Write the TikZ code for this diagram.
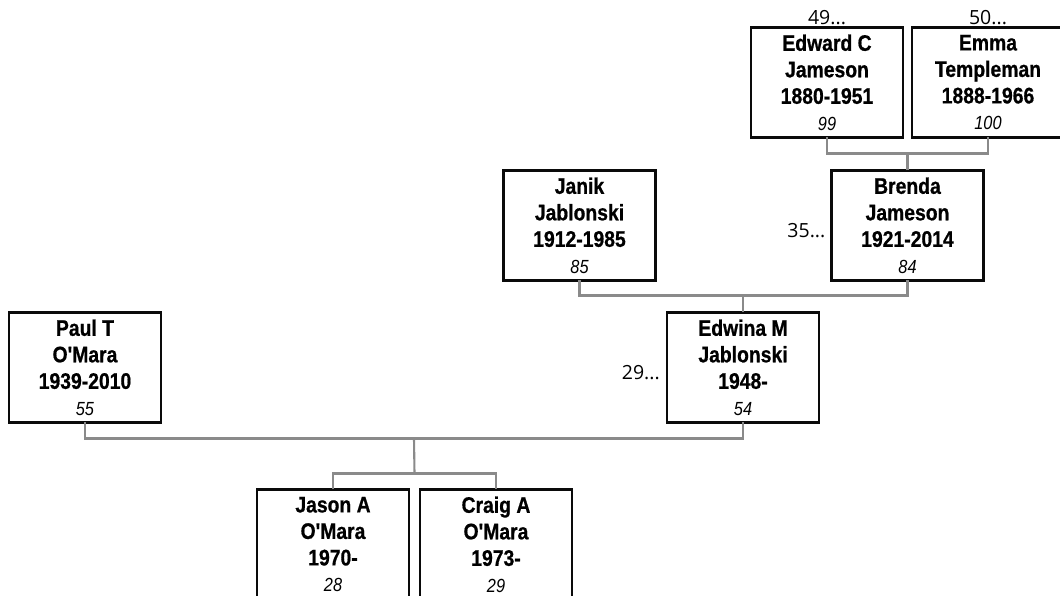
\documentclass[tikz,border=0pt]{standalone}
\usepackage{fontspec}
\usepackage{xcolor}
\usepackage{tikz}
\usetikzlibrary{positioning,calc}
\newfontfamily\namefont[FakeStretch=0.86,FakeBold=0.7]{Liberation Sans}
\newfontfamily\agefont[FakeStretch=0.86]{Liberation Sans}
\newfontfamily\reffont{Open Sans}
\definecolor{linkgrey}{HTML}{8A8A8A}
\definecolor{boxblack}{HTML}{0A0A0A}
\newcommand{\yrs}[1]{{\agefont\mdseries\itshape\fontsize{19}{26.5}\selectfont #1}}
\tikzset{
  personbox/.style={
    rectangle, draw=boxblack, fill=white, line width=2.1pt,
    minimum width=152pt, minimum height=110pt,
    font=\namefont\bfseries\fontsize{22.5}{26.5}\selectfont, align=center,
    inner sep=0pt, outer sep=0pt
  },
  famline/.style={draw=linkgrey, line width=2.1pt},
  famref/.style={font=\reffont\fontsize{19.5}{21}\selectfont, inner sep=0pt},
}

\begin{document}
\begin{tikzpicture}[x=1pt, y=1pt]
\path[use as bounding box, fill=white] (0,0) rectangle (1060,596);
\node[personbox] (edwina) at (743,228.5) {Edwina M\\Jablonski\\1948-\\\yrs{54}};
\node[personbox, left=506pt of edwina] (paul) {Paul T\\O'Mara\\1939-2010\\\yrs{55}};
\node[personbox, above=32pt of edwina, xshift=164.5pt] (brenda) {Brenda\\Jameson\\1921-2014\\\yrs{84}};
\node[personbox, left=176pt of brenda] (janik) {Janik\\Jablonski\\1912-1985\\\yrs{85}};
\node[personbox, above=33pt of brenda, xshift=-80.5pt] (edward) {Edward C\\Jameson\\1880-1951\\\yrs{99}};
\node[personbox, right=9pt of edward] (emma) {Emma\\Templeman\\1888-1966\\\yrs{100}};
\node[personbox, below=67pt of paul, xshift=248pt] (jason) {Jason A\\O'Mara\\1970-\\\yrs{28}};
\node[personbox, right=11pt of jason] (craig) {Craig A\\O'Mara\\1973-\\\yrs{29}};
\node[famref, above=3pt of edward] (edward-ref) {49...};
\node[famref, above=3pt of emma] (emma-ref) {50...};
\node[famref, left=6pt of brenda, yshift=-5pt] (brenda-ref) {35...};
\node[famref, left=7pt of edwina, yshift=-5pt] (edwina-ref) {29...};
\draw[famline] (edward.south) -- ++(0,-16) -| (emma.south);
\draw[famline] (brenda.north) -- ++(0,17);
\draw[famline] (janik.south) -- ++(0,-15) -| (brenda.south);
\draw[famline] (edwina.north) -- ++(0,17);
\draw[famline] (paul.south) -- ++(0,-16) -| (edwina.south);
\draw[famline] (jason.north) -- ++(0,16) -| (craig.north);
\coordinate (parents-mid) at ($(paul.south)!0.5!(edwina.south)+(0,-16)$);
\coordinate (kids-mid) at ($(jason.north)!0.5!(craig.north)+(0,16)$);
\draw[famline] (parents-mid) -- (kids-mid);
\end{tikzpicture}
\end{document}
